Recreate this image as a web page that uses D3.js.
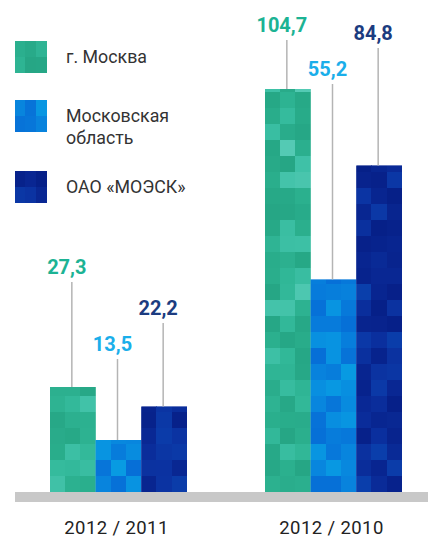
<!DOCTYPE html>
<html><head><meta charset="utf-8">
<script src="https://cdn.jsdelivr.net/npm/d3@7"></script>
<style>
html,body{margin:0;padding:0;background:#fff;}
svg{display:block;}
</style></head>
<body>
<script>
// ---- data ----
const periods = ["2012 / 2011", "2012 / 2010"];
const seriesNames = ["г. Москва", "Московская\nобласть", "ОАО «МОЭСК»"];
const moscow = [27.3, 104.7];
const region = [13.5, 55.2];
const moesk = [22.2, 84.8];
const valueLabels = [["27,3", "104,7"], ["13,5", "55,2"], ["22,2", "84,8"]];

// ---- style / layout ----
const W = 428, H = 541;
const labelColors = ["#1cb394", "#1aaeea", "#1c3c80"];
const palettes = [
  ["#1a8f74", "#2cb48e", "#3cc3ad", "#a8e6d8"],
  ["#0552cf", "#0780dc", "#0a95e2", "#02b4e6"],
  ["#00106e", "#0a2896", "#0c3aaa", "#0655b8"]
];
// label baseline y positions (pixels) for [series][period]
const labelBaseline = [[274, 32], [351, 76], [315, 40]];

const series = [moscow, region, moesk];

const svg = d3.select("body").append("svg").attr("width", W).attr("height", H);

const y = d3.scaleLinear().domain([0, 100]).range([492, 107]);
const x0 = d3.scaleBand().domain(periods).range([50, 402]).paddingInner(78 / 215).paddingOuter(0);
const x1 = d3.scaleBand().domain(d3.range(series.length)).range([0, x0.bandwidth()]);

function hash(a, b, c) {
  let h = (a * 374761393 + b * 668265263 + c * 2147483647) | 0;
  h = (h ^ (h >>> 13)) * 1274126177;
  h = h ^ (h >>> 16);
  return ((h >>> 0) % 1000) / 1000;
}
function mosaic(g, x, yTop, w, yBottom, si, seed) {
  const pal = palettes[si];
  const interp = d3.interpolateRgbBasis(pal);
  const cols = 3;
  const cw = w / cols, ch = 16;
  const clipId = "clip" + si + "_" + seed;
  g.append("clipPath").attr("id", clipId).append("rect")
    .attr("x", x).attr("y", yTop).attr("width", w).attr("height", yBottom - yTop);
  const cg = g.append("g").attr("clip-path", `url(#${clipId})`);
  cg.append("rect").attr("x", x).attr("y", yTop).attr("width", w).attr("height", yBottom - yTop)
    .attr("fill", interp(0.35));
  const rows = Math.ceil((yBottom - yTop) / ch);
  for (let r = 0; r < rows; r++) {
    for (let c = 0; c < cols; c++) {
      let t = hash(r + 1, c + 3, seed + si * 17);
      t = 0.22 + 0.5 * Math.pow(t, 1.8);
      cg.append("rect")
        .attr("x", x + c * cw - 0.25).attr("y", yBottom - (r + 1) * ch - 0.25)
        .attr("width", cw + 0.5).attr("height", ch + 0.5)
        .attr("shape-rendering", "crispEdges")
        .attr("fill", interp(t));
    }
  }
}

// baseline band
svg.append("rect").attr("x", 15).attr("y", 492).attr("width", W - 15).attr("height", 10).attr("fill", "#c8c8c8");

// bars
periods.forEach((p, pi) => {
  series.forEach((s, si) => {
    const bx = x0(p) + x1(si);
    const bw = x1.bandwidth();
    mosaic(svg, bx, y(s[pi]), bw, y(0), si, pi * 31 + 5);
  });
});

// leader lines and value labels
periods.forEach((p, pi) => {
  series.forEach((s, si) => {
    const cx = x0(p) + x1(si) + x1.bandwidth() / 2 - 1;
    const by = labelBaseline[si][pi];
    svg.append("line").attr("x1", cx).attr("x2", cx)
      .attr("y1", by + 8).attr("y2", y(s[pi]))
      .attr("stroke", "#b4b4b4").attr("stroke-width", 1.5);
    svg.append("text").attr("x", cx - 5).attr("y", by)
      .attr("text-anchor", "middle")
      .attr("font-family", "Roboto, sans-serif").attr("font-weight", 700)
      .attr("font-size", 20).attr("fill", labelColors[si])
      .text(valueLabels[si][pi]);
  });
});

// category labels
periods.forEach(p => {
  svg.append("text").attr("x", x0(p) + x0.bandwidth() / 2 - 2).attr("y", 534)
    .attr("text-anchor", "middle")
    .attr("font-family", "Roboto, sans-serif").attr("font-size", 18.5)
    .attr("letter-spacing", 0.4)
    .attr("fill", "#222").text(p);
});

// legend
const legendTop = [41, 100, 171];
seriesNames.forEach((name, si) => {
  const ly = legendTop[si];
  mosaic(svg, 15, ly, 32, ly + 32, si, 99);
  const lines = name.split("\n");
  const t = svg.append("text").attr("x", 66).attr("y", ly + 22)
    .attr("font-family", "Roboto, sans-serif").attr("font-size", 17.8)
    .attr("fill", "#333");
  lines.forEach((ln, i) => {
    t.append("tspan").attr("x", 66).attr("dy", i === 0 ? 0 : 22).text(ln);
  });
});
</script>
</body></html>
